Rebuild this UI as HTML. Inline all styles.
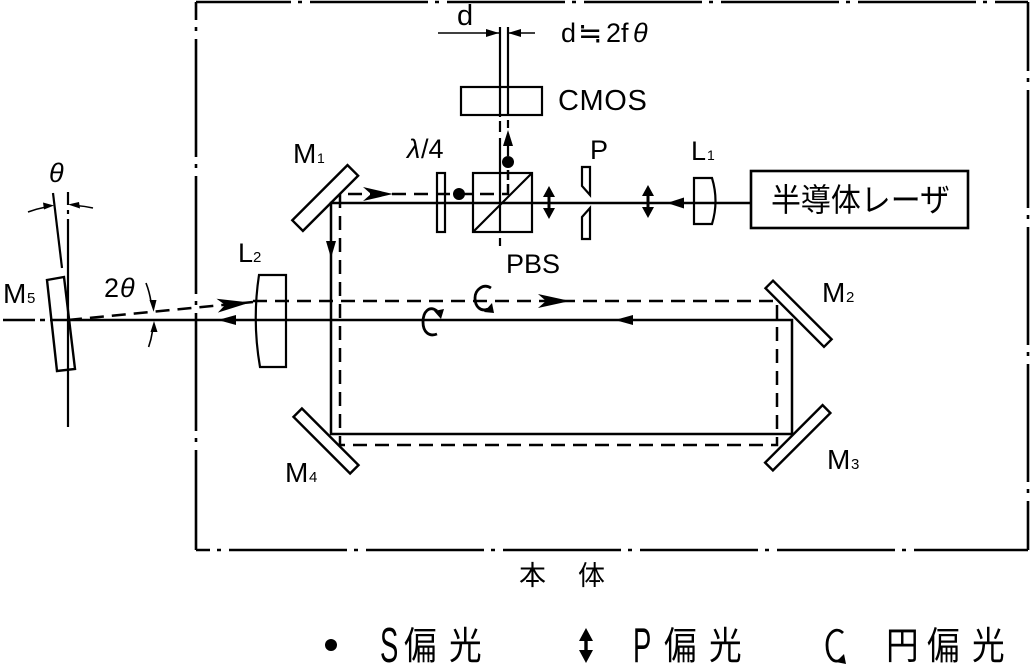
<!DOCTYPE html>
<html><head><meta charset="utf-8">
<style>
html,body{margin:0;padding:0;background:#fff;}
svg{display:block;}
text{font-family:"Liberation Sans","Noto Sans CJK JP",sans-serif;fill:#000;}
.j{font-family:"Noto Sans CJK JP","Liberation Sans",sans-serif;}
</style></head><body>
<svg width="1031" height="671" viewBox="0 0 1031 671" xmlns="http://www.w3.org/2000/svg">
<g fill="none" stroke="#000" stroke-linecap="butt">
 <!-- main body box (dash-dot) -->
 <g stroke-width="2.6" stroke-dasharray="118 7 4 8">
  <line x1="196" y1="2" x2="1028" y2="2" stroke-dashoffset="23"/>
  <line x1="196" y1="550" x2="1028" y2="550" stroke-dashoffset="104"/>
  <line x1="196" y1="2" x2="196" y2="550" stroke-dashoffset="100"/>
  <line x1="1028" y1="2" x2="1028" y2="550" stroke-dashoffset="49"/>
 </g>

 <!-- solid beams -->
 <g stroke-width="2.5">
  <path d="M3,320H35M40,320H45M50,320H792V434H331V203H751"/>
 </g>
 <!-- dashed beams -->
 <g stroke-width="2.5" stroke-dasharray="14 8">
  <path d="M68,320L253,302"/>
  <path d="M253,301H777V445H340V194H508"/>
 </g>
 <path stroke-width="2.5" d="M508,195V184M508,180V170"/>

 <!-- CMOS axis lines -->
 <path stroke-width="2.2" d="M500,27V117M500,121V132M500,138V232M500,238V246"/>
 <path stroke-width="2.2" d="M508,27V116M508,120V128M508,145V156"/>
 <!-- dimension -->
 <path stroke-width="1.6" d="M438,33H499M508,33H535"/>

 <!-- CMOS -->
 <rect x="461" y="87" width="81" height="28" stroke-width="2.2"/>
 <!-- PBS -->
 <rect x="473" y="173" width="59" height="59" stroke-width="2.2"/>
 <path stroke-width="2.2" d="M473,232L532,173"/>
 <!-- lambda/4 -->
 <rect x="437" y="173" width="8" height="59" stroke-width="2.2"/>
 <!-- polarizer P -->
 <polygon stroke-width="2.2" points="582,167 590,167 590,195 582,186"/>
 <polygon stroke-width="2.2" points="582,217 590,208 590,239 582,239"/>
 <!-- L1 -->
 <path stroke-width="2.2" d="M694,178H712Q719,201 712,224H694Z"/>
 <!-- laser box -->
 <rect x="751" y="171" width="217" height="57" stroke-width="2.6"/>
 <!-- L2 -->
 <path stroke-width="2.2" d="M259,275H286V367H260Q252,321 259,275Z"/>

 <!-- mirrors -->
 <polygon stroke-width="2.4" points="358.1,175.7 347.5,165.1 292.3,220.3 302.9,230.9"/>
 <polygon stroke-width="2.4" points="358.5,465.1 350.1,473.5 293.5,416.9 301.9,408.5"/>
 <polygon stroke-width="2.4" points="765.5,288.2 773,280.7 831.6,339.3 824,346.8"/>
 <polygon stroke-width="2.4" points="765.1,462.6 772.9,470.4 830.4,413 822.6,405.1"/>
 <polygon stroke-width="2.4" points="47,280 64,277 75,369 57,371"/>

 <!-- M5 reference lines -->
 <path stroke-width="2.2" d="M68,192V205M68,210V214M68,219V427"/>
 <path stroke-width="2.2" d="M53,193L62,268"/>
 <!-- theta arcs -->
 <path stroke-width="1.6" d="M28,212A115,115 0 0 1 46,207"/>
 <path stroke-width="1.6" d="M93,208A115,115 0 0 0 76,205.5"/>
 <!-- 2theta arcs -->
 <path stroke-width="1.6" d="M146,283A86,86 0 0 1 151,302"/>
 <path stroke-width="1.6" d="M148.6,347A86,86 0 0 0 152.5,331"/>

 <!-- circular polarization symbols -->
 <path stroke-width="2.8" d="M437,311C429,305 423,312 423,322C423,332 429,337 437,334"/>
 <path stroke-width="2.8" d="M491,288C483,283 475,290 475,298C475,307 481,312 488,309"/>
 <path stroke-width="2.8" d="M843,633C836,626 827,633 827,645C827,657 834,664 840,660"/>
</g>

<g fill="#000" stroke="none">
 <!-- stealth arrowheads -->
 <polygon points="393,194 363,187 371,194 363,201"/>
 <polygon points="570,301 538,294 546,301 538,308"/>
 <polygon points="0,0 -33,-7 -25,0 -33,7" transform="translate(250,302.5) rotate(-5.56)"/>
 <!-- small arrowheads -->
 <polygon points="667,203 684,197.5 684,208.5"/>
 <polygon points="331,258 326,241 336,241"/>
 <polygon points="218,320 236,315 236,325"/>
 <polygon points="615,320 633,315 633,325"/>
 <polygon points="499,33 486,29 486,37"/>
 <polygon points="508,33 521,29 521,37"/>
 <polygon points="508,130 503,146 513,146"/>
 <!-- theta arrows -->
 <polygon points="54,205.5 43,202.5 44,209.5"/>
 <polygon points="68,204.5 79,202 80,208.5"/>
 <!-- 2theta arrows -->
 <polygon points="153.6,311.7 149.5,300 156.5,300"/>
 <polygon points="154,321 150.5,332 157.5,332"/>
 <!-- circ pol arrowheads -->
 <polygon points="434,311 444,309 441,319"/>
 <polygon points="484,312 492,303 494,313"/>
 <polygon points="836,662 844,654 846,664"/>
 <!-- dots (S pol) -->
 <circle cx="459" cy="194" r="6"/>
 <circle cx="508" cy="162" r="6"/>
 <circle cx="331" cy="645" r="6"/>
 <!-- P pol double arrows -->
 <polygon points="549,186 555,197 550.5,197 550.5,208 555,208 549,219 543,208 547.5,208 547.5,197 543,197"/>
 <polygon points="648,185 654,196 649.5,196 649.5,207 654,207 648,218 642,207 646.5,207 646.5,196 642,196"/>
 <polygon points="586,628 593,641 587.7,641 587.7,650 593,650 586,663 579,650 584.3,650 584.3,641 579,641"/>
</g>

<!-- labels -->
<g font-size="27">
 <text x="457" y="25" font-size="29">d</text>
 <text x="561" y="42" font-size="27">d</text>
 <text x="578" y="43" font-size="29" class="j">≒</text>
 <text x="606" y="42" font-size="27">2f</text>
 <text x="633" y="42" font-size="27" font-style="italic">θ</text>
 <text x="558" y="110" font-size="29" letter-spacing="0.6">CMOS</text>

 <text x="293" y="163" font-size="28">M</text><text x="317" y="163" font-size="14">1</text>
 <text x="407" y="158" font-style="italic">λ</text><text x="421" y="158">/4</text>
 <text x="590" y="159">P</text>
 <text x="691" y="160">L</text><text x="707" y="160" font-size="14">1</text>
 <text x="506" y="273">PBS</text>

 <text x="238" y="262">L</text><text x="253" y="262" font-size="15">2</text>
 <text x="3" y="303" font-size="28">M</text><text x="27" y="303" font-size="15">5</text>
 <text x="49" y="182" font-style="italic">θ</text>
 <text x="104" y="297">2</text><text x="120" y="297" font-style="italic">θ</text>

 <text x="822" y="302" font-size="28">M</text><text x="846" y="302" font-size="15">2</text>
 <text x="827" y="469" font-size="28">M</text><text x="851" y="469" font-size="15">3</text>
 <text x="285" y="482" font-size="28">M</text><text x="309" y="482" font-size="15">4</text>
</g>

<text x="771" y="211" font-size="32" class="j" textLength="179" lengthAdjust="spacingAndGlyphs">半導体レーザ</text>

<text x="519" y="585" font-size="27" class="j">本</text>
<text x="578" y="585" font-size="27" class="j">体</text>

<!-- legend -->
<text font-size="49" transform="translate(380,662) scale(0.56,1)">S</text>
<text font-size="38" class="j" transform="translate(404,659) scale(0.86,1)">偏</text>
<text font-size="38" class="j" transform="translate(449,659) scale(0.86,1)">光</text>

<text font-size="49" transform="translate(633,662) scale(0.56,1)">P</text>
<text font-size="38" class="j" transform="translate(664,659) scale(0.86,1)">偏</text>
<text font-size="38" class="j" transform="translate(709,659) scale(0.86,1)">光</text>

<text font-size="38" class="j" transform="translate(886,659) scale(0.86,1)">円</text>
<text font-size="38" class="j" transform="translate(927,659) scale(0.86,1)">偏</text>
<text font-size="38" class="j" transform="translate(972,659) scale(0.86,1)">光</text>
</svg>
</body></html>
